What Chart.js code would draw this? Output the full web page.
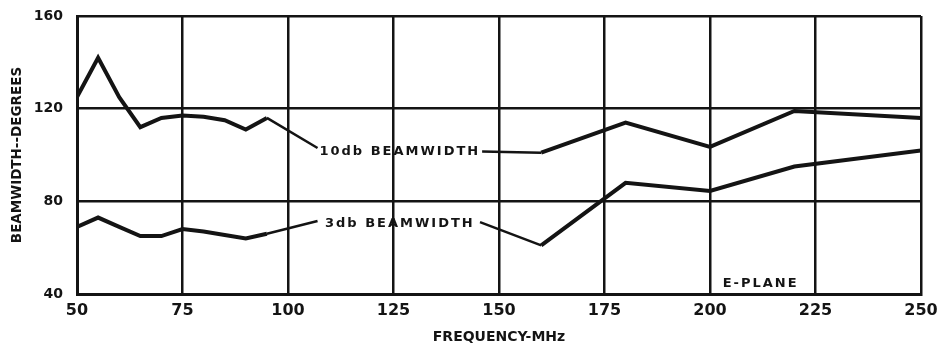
<!DOCTYPE html>
<html>
<head>
<meta charset="utf-8">
<script src="https://cdn.jsdelivr.net/npm/chart.js@4.4.1/dist/chart.umd.min.js"></script>
<style>
  html, body { margin: 0; padding: 0; background: #fff; }
  #wrap { width: 940px; height: 347px; }
</style>
</head>
<body>
<div id="wrap"><canvas id="c" width="940" height="347"></canvas></div>
<script>
// frequency (MHz) and beamwidth (degrees), low band and high band
const freqLow = [50, 55, 60, 65, 70, 75, 80, 85, 90, 95];
const bw10Low = [125, 142, 125, 112, 116, 117, 116.5, 115, 111, 116];
const bw3Low = [69, 73, 69, 65, 65, 68, 67, 65.5, 64, 66];

const freqHigh = [160, 180, 200, 220, 250];
const bw10High = [101, 114, 103.5, 119, 116];
const bw3High = [61, 88, 84.5, 95, 102];

const xTicks = [50, 75, 100, 125, 150, 175, 200, 225, 250];
const yTicks = [40, 80, 120, 160];

// curve labels with their leader lines (curve point, label start, gap, label end, curve point)
const labels10 = { text: '10db BEAMWIDTH', x: 126.5, y: 101.5 };
const labels3 = { text: '3db BEAMWIDTH', x: 126.5, y: 70.5 };
const leader10 = [[95, 116], [107, 103], null, [146, 101.5], [160, 101]];
const leader3 = [[95, 66], [107, 71.5], null, [145.5, 71], [160, 61]];

const ink = '#141414';
const font = 'DejaVu Sans';

const pts = (xs, ys) => xs.map((x, i) => ({ x, y: ys[i] }));
const lead = arr => arr.map(p => p ? { x: p[0], y: p[1] } : { x: NaN, y: null });

const curveStyle = { borderColor: ink, borderWidth: 4, pointRadius: 0, tension: 0, fill: false };
const leaderStyle = { borderColor: ink, borderWidth: 2.5, pointRadius: 0, tension: 0, fill: false, spanGaps: false };

const textPlugin = {
  id: 'curveText',
  afterDatasetsDraw(chart) {
    const { ctx, scales: { x, y }, chartArea } = chart;
    ctx.save();
    ctx.fillStyle = ink;
    ctx.textAlign = 'center';
    ctx.textBaseline = 'middle';
    ctx.font = 'bold 13px "' + font + '"';
    ctx.letterSpacing = '2px';
    [labels10, labels3].forEach(l => {
      ctx.fillText(l.text, x.getPixelForValue(l.x), y.getPixelForValue(l.y));
    });
    ctx.fillText('E-PLANE', x.getPixelForValue(212), chartArea.bottom - 10);
    ctx.restore();
  }
};

new Chart(document.getElementById('c'), {
  type: 'line',
  data: {
    datasets: [
      { data: pts(freqLow, bw10Low), ...curveStyle },
      { data: pts(freqHigh, bw10High), ...curveStyle },
      { data: pts(freqLow, bw3Low), ...curveStyle },
      { data: pts(freqHigh, bw3High), ...curveStyle },
      { data: lead(leader10), ...leaderStyle },
      { data: lead(leader3), ...leaderStyle }
    ]
  },
  options: {
    responsive: false,
    animation: false,
    layout: { padding: { left: 0, right: 19, top: 16, bottom: 0 } },
    plugins: { legend: { display: false }, tooltip: { enabled: false } },
    scales: {
      x: {
        type: 'linear',
        min: 50, max: 250,
        afterBuildTicks: s => { s.ticks = xTicks.map(v => ({ value: v })); },
        afterFit: s => { s.height = 53; s.paddingLeft = 0; s.paddingRight = 0; },
        grid: { color: ink, lineWidth: 2.5, drawTicks: false },
        border: { color: ink, width: 3 },
        ticks: { color: ink, padding: 7, maxRotation: 0, font: { family: font, size: 16, weight: 'bold' } },
        title: {
          display: true, text: 'FREQUENCY-MHz', color: ink,
          padding: { top: 0, bottom: 1 },
          font: { family: font, size: 14, weight: 'bold' }
        }
      },
      y: {
        min: 40, max: 160,
        afterBuildTicks: s => { s.ticks = yTicks.map(v => ({ value: v })); },
        afterFit: s => { s.width = 77; s.paddingTop = 0; s.paddingBottom = 0; },
        grid: { color: ink, lineWidth: 2.5, drawTicks: false },
        border: { color: ink, width: 3 },
        ticks: { color: ink, padding: 14, font: { family: font, size: 14, weight: 'bold' } },
        title: {
          display: true, text: 'BEAMWIDTH--DEGREES', color: ink,
          padding: { top: 9, bottom: 0 },
          font: { family: font, size: 13.5, weight: 'bold' }
        }
      }
    }
  },
  plugins: [textPlugin]
});
</script>
</body>
</html>
